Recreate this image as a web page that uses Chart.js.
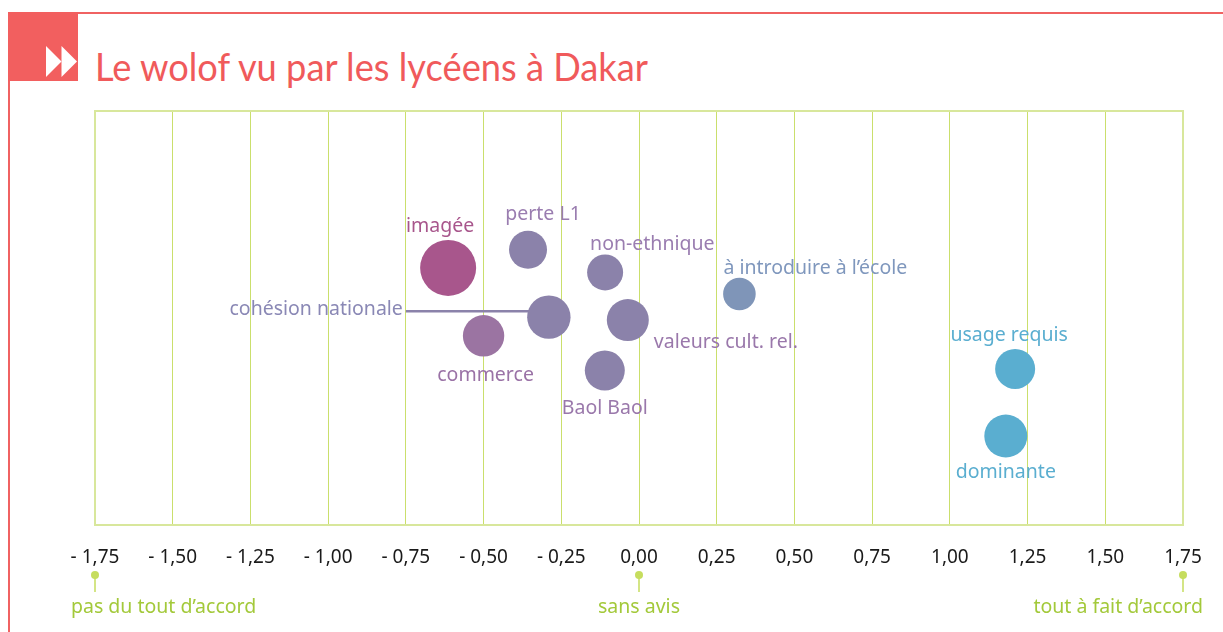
<!DOCTYPE html>
<html><head><meta charset="utf-8">
<script src="https://cdn.jsdelivr.net/npm/chart.js@4.4.1/dist/chart.umd.min.js"></script>
<style>
html,body{margin:0;padding:0;background:#fff;}
#wrap{position:relative;width:1223px;height:632px;overflow:hidden;background:#fff;}
#frame{position:absolute;left:0;top:0;}
canvas#c{position:absolute;left:0;top:0;}
</style></head>
<body>
<div id="wrap">
<svg id="frame" width="1223" height="632" xmlns="http://www.w3.org/2000/svg">
  <rect x="8" y="12" width="1215" height="2" fill="#f06262"/>
  <rect x="8" y="12" width="2" height="620" fill="#f06262"/>
  <rect x="8" y="12" width="70" height="69" fill="#f25f5f"/>
  <polygon points="46,46 61.5,61.5 46,77" fill="#ffffff"/>
  <polygon points="61.5,46 77,61.5 61.5,77" fill="#ffffff"/>
  <text id="title" x="95" y="81" font-family="Lato, 'Noto Sans', sans-serif" font-size="39" fill="#f05a5b" textLength="553" lengthAdjust="spacingAndGlyphs">Le wolof vu par les lycéens à Dakar</text>
</svg>
<canvas id="c" width="1223" height="632"></canvas>
</div>
<script>
// ---- data ----
const categories = ["imagée","perte L1","non-ethnique","cohésion nationale","valeurs cult. rel.","commerce","Baol Baol","à introduire à l’école","usage requis","dominante"];
const xValues = [-0.614,-0.357,-0.109,-0.290,-0.036,-0.500,-0.110,0.323,1.210,1.180];
const yValues = [62.1,66.5,61.0,50.2,49.5,45.7,37.3,55.8,37.7,21.5];
const sizes   = [28,19,18,21.7,21,20.7,20,16.3,20,21.5];
const tickValues = [-1.75,-1.5,-1.25,-1,-0.75,-0.5,-0.25,0,0.25,0.5,0.75,1,1.25,1.5,1.75];
const anchorValues = [-1.75,0,1.75];
const anchorLabels = ["pas du tout d’accord","sans avis","tout à fait d’accord"];

// ---- styles ----
const bubbleColors = ["#a8568c","#8b82aa","#8b82aa","#8b82aa","#8b82aa","#9b74a2","#8b82aa","#7f95b8","#5aaed0","#5aaed0"];
const labelColors  = ["#a8568c","#9a7db0","#9a7db0","#8a88b5","#9a78ab","#9a72a6","#9a78ab","#7f97bd","#5aaed0","#5aaed0"];
// [dx, dy, align]
const labelOffsets = [[-8,-41,'center'],[15,-35,'center'],[-15,-28,'left'],[-146,-8,'right'],[26,22,'left'],[2,40,'center'],[0,38,'center'],[-16,-26,'left'],[-6,-33,'center'],[0,36,'center']];
const anchorOffsets = [[-24,'left'],[0,'center'],[20,'right']];
const LABEL_FONT = "19.5px 'Noto Sans', sans-serif";

const points = xValues.map((x,i)=>({x:x,y:yValues[i],r:sizes[i]}));

const decor = {
  id:'decor',
  beforeDatasetsDraw(chart){
    const ctx = chart.ctx, a = chart.chartArea;
    ctx.save();
    ctx.strokeStyle = '#d8e79c';
    ctx.lineWidth = 2;
    ctx.strokeRect(a.left, a.top, a.right-a.left, a.bottom-a.top);
    // leader line for cohésion nationale
    const meta = chart.getDatasetMeta(0);
    const el = meta.data[3];
    ctx.strokeStyle = '#8b82aa';
    ctx.lineWidth = 2.5;
    ctx.beginPath();
    ctx.moveTo(el.x + labelOffsets[3][0] + 3, el.y - 6);
    ctx.lineTo(el.x - sizes[3] + 2, el.y - 6);
    ctx.stroke();
    ctx.restore();
  },
  afterDatasetsDraw(chart){
    const ctx = chart.ctx;
    const meta = chart.getDatasetMeta(0);
    ctx.save();
    ctx.font = LABEL_FONT;
    ctx.textBaseline = 'middle';
    meta.data.forEach((el,i)=>{
      const o = labelOffsets[i];
      ctx.fillStyle = labelColors[i];
      ctx.textAlign = o[2];
      ctx.fillText(categories[i], el.x + o[0], el.y + o[1]);
    });
    // bottom anchors
    const xs = chart.scales.x;
    anchorValues.forEach((v,i)=>{
      const px = xs.getPixelForValue(v);
      ctx.fillStyle = '#c6dd5e';
      ctx.strokeStyle = '#c6dd5e';
      ctx.lineWidth = 1.5;
      ctx.beginPath(); ctx.moveTo(px,575); ctx.lineTo(px,592); ctx.stroke();
      ctx.beginPath(); ctx.arc(px,575,4,0,Math.PI*2); ctx.fill();
      ctx.fillStyle = '#a3c93a';
      ctx.textAlign = anchorOffsets[i][1];
      ctx.fillText(anchorLabels[i], px + anchorOffsets[i][0], 607);
    });
    ctx.restore();
  }
};

new Chart(document.getElementById('c'), {
  type:'bubble',
  data:{ datasets:[{ data: points, backgroundColor: bubbleColors, borderWidth:0, hoverBorderWidth:0 }] },
  options:{
    responsive:false, animation:false, devicePixelRatio:1,
    layout:{ padding:{ left:95, right:40, top:111, bottom:0 } },
    plugins:{ legend:{display:false}, tooltip:{enabled:false}, title:{display:false} },
    events:[],
    scales:{
      x:{
        type:'linear', min:-1.75, max:1.75,
        afterBuildTicks: s => { s.ticks = tickValues.map(v=>({value:v})); },
        afterFit: s => { s.height = 107; },
        grid:{ drawTicks:false, lineWidth:1,
          color: c => (c.index===0 || c.index===tickValues.length-1) ? 'rgba(0,0,0,0)' : '#cadf6c' },
        border:{ display:false },
        ticks:{ padding:21, color:'#1a1a1a', font:{ family:"'Noto Sans', sans-serif", size:19 }, maxRotation:0, autoSkip:false,
          callback: v => { const s = Math.abs(v).toFixed(2).replace('.',','); return v < -1e-9 ? '- ' + s : s; } }
      },
      y:{ display:false, min:0, max:100 }
    }
  },
  plugins:[decor]
});
</script>
</body></html>
